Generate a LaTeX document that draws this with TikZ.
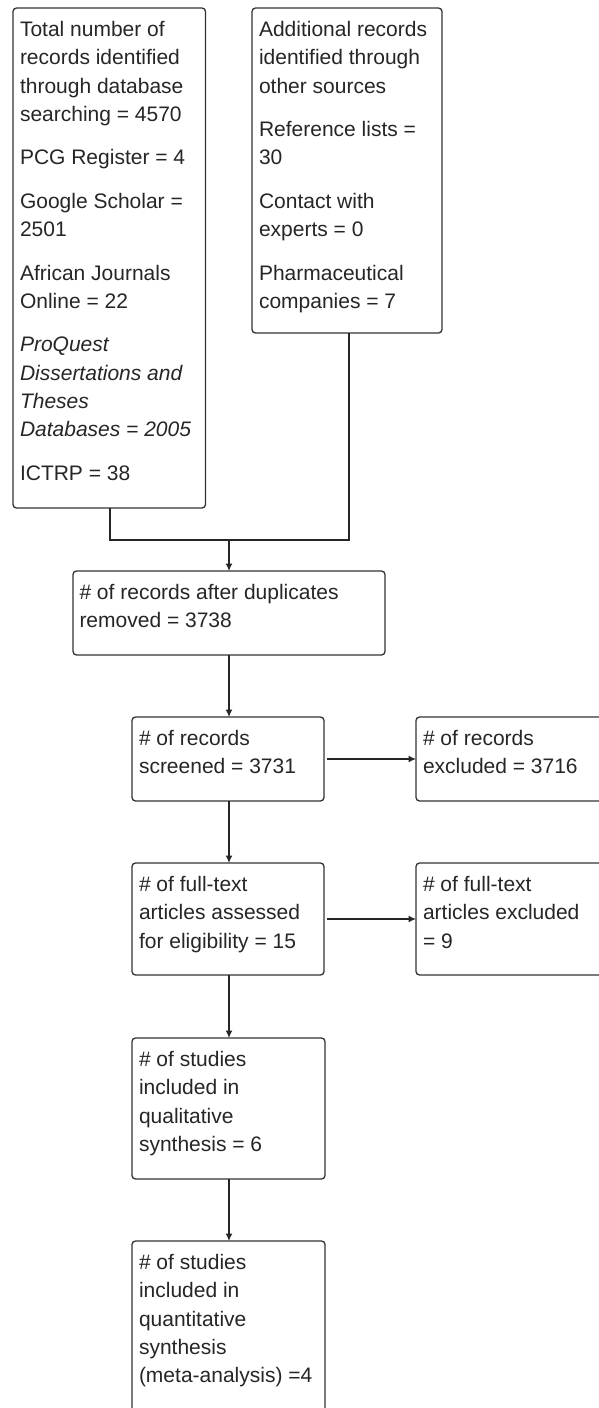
\documentclass[tikz,border=0pt]{standalone}
\usepackage{fontspec}
\setmainfont{Liberation Sans}
\usetikzlibrary{arrows.meta}
\newcommand{\boxfont}{\fontsize{21pt}{28.3pt}\selectfont}
\newcommand{\pg}{\\[15.2pt]}
\tikzset{
  box/.style={draw=black!80, line width=1.3pt, rounded corners=3.5pt, inner sep=0pt, outer sep=0pt, anchor=north west},
  txt/.style={anchor=base west, inner sep=0pt, outer sep=0pt, text=black!85, font=\boxfont},
  conn/.style={draw=black!85, line width=1.4pt},
  arr/.style={conn, -{Latex[length=7.5pt,width=7pt]}},
}
\begin{document}
\begin{tikzpicture}[x=1pt,y=-1pt]
\clip (0,0) rectangle (599,1408);
\fill[white] (0,0) rectangle (599,1408);
% boxes
\node[box, minimum width=192.5pt, minimum height=500pt] (A) at (13,8) {};
\node[box, minimum width=190pt, minimum height=325pt] (B) at (252,8) {};
\node[box, minimum width=312pt, minimum height=84pt] (C) at (73,571) {};
\node[box, minimum width=192pt, minimum height=84pt] (D) at (132,717) {};
\node[box, minimum width=200pt, minimum height=84pt] (E) at (416,717) {};
\node[box, minimum width=192pt, minimum height=112pt] (F) at (132,863) {};
\node[box, minimum width=200pt, minimum height=112pt] (G) at (416,863) {};
\node[box, minimum width=193pt, minimum height=141pt] (H) at (132,1038) {};
\node[box, minimum width=193pt, minimum height=200pt] (I) at (132,1241) {};
% texts
\node[txt] (tA) at (20,36.5) {\begin{minipage}[t]{185pt}\boxfont
Total number of\\records identified\\through database\\searching = 4570\pg
PCG Register = 4\pg
Google Scholar =\\2501\pg
African Journals\\Online = 22\pg
\itshape ProQuest\\Dissertations and\\Theses\\Databases = 2005\pg
\upshape ICTRP = 38\end{minipage}};
\node[txt] (tB) at (259,36.5) {\begin{minipage}[t]{185pt}\boxfont
Additional records\\identified through\\other sources\pg
Reference lists =\\30\pg
Contact with\\experts = 0\pg
Pharmaceutical\\companies = 7\end{minipage}};
\node[txt] (tC) at (79.5,599.5) {\begin{minipage}[t]{305pt}\boxfont
\# of records after duplicates\\removed = 3738\end{minipage}};
\node[txt] (tD) at (139,745.5) {\begin{minipage}[t]{185pt}\boxfont
\# of records\\screened = 3731\end{minipage}};
\node[txt] (tE) at (423,745.5) {\begin{minipage}[t]{185pt}\boxfont
\# of records\\excluded = 3716\end{minipage}};
\node[txt] (tF) at (139,891.5) {\begin{minipage}[t]{185pt}\boxfont
\# of full-text\\articles assessed\\for eligibility = 15\end{minipage}};
\node[txt] (tG) at (423,891.5) {\begin{minipage}[t]{185pt}\boxfont
\# of full-text\\articles excluded\\= 9\end{minipage}};
\node[txt] (tH) at (139,1066.5) {\begin{minipage}[t]{185pt}\boxfont
\# of studies\\included in\\qualitative\\synthesis = 6\end{minipage}};
\node[txt] (tI) at (139,1269.5) {\begin{minipage}[t]{185pt}\boxfont
\# of studies\\included in\\quantitative\\synthesis\\(meta-analysis) =4\end{minipage}};
% connectors
\coordinate (aL) at (110,540);
\coordinate (bR) at (349,540);
\coordinate (j) at (229,540);
\draw[conn] (A.south -| aL) -- (aL) -- (bR) -- (B.south -| bR);
\draw[arr] (j) -- (C.north -| j);
\draw[arr] (C.south -| j) -- (D.north -| j);
\draw[arr] ([xshift=3pt]D.east) -- (E.west |- D.east);
\draw[arr] (D.south -| j) -- (F.north -| j);
\draw[arr] ([xshift=3pt]F.east) -- (G.west |- F.east);
\draw[arr] (F.south -| j) -- (H.north -| j);
\draw[arr] (H.south -| j) -- (I.north -| j);
\end{tikzpicture}
\end{document}
